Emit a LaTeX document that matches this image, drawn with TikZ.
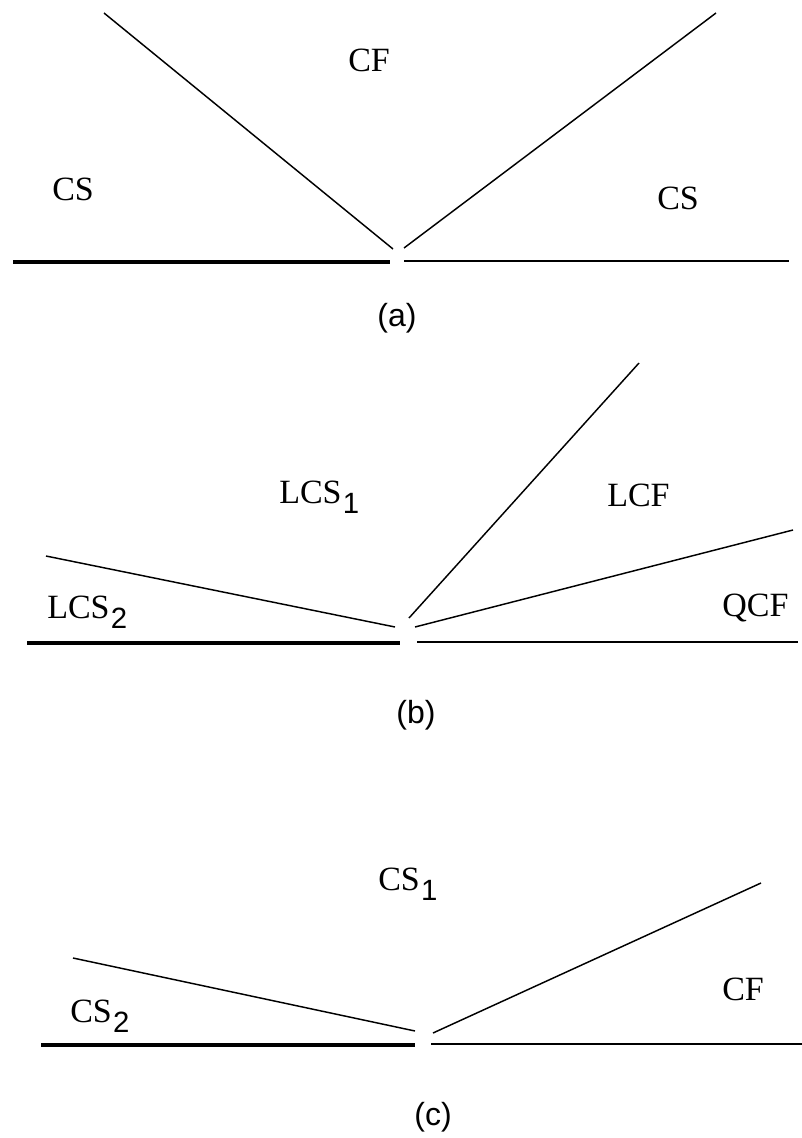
\documentclass[tikz,border=0pt]{standalone}
\usepackage{fontspec}
\setmainfont{Liberation Serif}
\newfontfamily\lblsans{Liberation Sans}
\begin{document}
\begin{tikzpicture}[x=0.75pt,y=-0.75pt,
  thin line/.style={line width=1.1pt},
  thick line/.style={line width=3.6pt},
  region/.style={font=\fontsize{25.5}{28}\selectfont, inner sep=0pt, anchor=base west},
  caption/.style={font=\lblsans\fontsize{24}{26}\selectfont, inner sep=0pt}]
\newcommand{\subsc}[1]{\kern1pt\raisebox{-7.5pt}{\lblsans\fontsize{22}{24}\selectfont #1}}
\useasboundingbox (0,0) rectangle (802,1138);
% ---------- (a)
\coordinate (a1) at (104,13);  \coordinate (a2) at (393,249);
\coordinate (a3) at (716,13);  \coordinate (a4) at (404,248);
\coordinate (a5) at (13,262);  \coordinate (a6) at (390,262);
\coordinate (a7) at (404,261); \coordinate (a8) at (789,261);
\draw[thin line] (a1) -- (a2);
\draw[thin line] (a3) -- (a4);
\draw[thick line] (a5) -- (a6);
\draw[thin line] (a7) -- (a8);
\node[region] (aCF) at (348,72) {CF};
\node[region] (aCS1) at (52,200) {CS};
\node[region] (aCS2) at (657,209) {CS};
\node[caption] (acap) at (397,318) {(a)};
% ---------- (b)
\coordinate (b1) at (639,363); \coordinate (b2) at (409,618);
\coordinate (b3) at (46,556);  \coordinate (b4) at (395,627);
\coordinate (b5) at (415,627); \coordinate (b6) at (793,530);
\coordinate (b7) at (27,643);  \coordinate (b8) at (400,643);
\coordinate (b9) at (417,642); \coordinate (b10) at (798,642);
\draw[thin line] (b1) -- (b2);
\draw[thin line] (b3) -- (b4);
\draw[thin line] (b5) -- (b6);
\draw[thick line] (b7) -- (b8);
\draw[thin line] (b9) -- (b10);
\node[region] (bLCS1) at (279,503) {LCS\subsc{1}};
\node[region] (bLCF) at (607,506) {LCF};
\node[region] (bLCS2) at (47,618) {LCS\subsc{2}};
\node[region] (bQCF) at (722,616) {QCF};
\node[caption] (bcap) at (416,715) {(b)};
% ---------- (c)
\coordinate (c1) at (73,958);  \coordinate (c2) at (415,1031);
\coordinate (c3) at (433,1033); \coordinate (c4) at (761,883);
\coordinate (c5) at (41,1045); \coordinate (c6) at (415,1045);
\coordinate (c7) at (431,1044); \coordinate (c8) at (802,1044);
\draw[thin line] (c1) -- (c2);
\draw[thin line] (c3) -- (c4);
\draw[thick line] (c5) -- (c6);
\draw[thin line] (c7) -- (c8);
\node[region] (cCS1) at (378,890) {CS\subsc{1}};
\node[region] (cCF) at (722,1000) {CF};
\node[region] (cCS2) at (70,1022) {CS\subsc{2}};
\node[caption] (ccap) at (433,1117) {(c)};
\end{tikzpicture}
\end{document}
